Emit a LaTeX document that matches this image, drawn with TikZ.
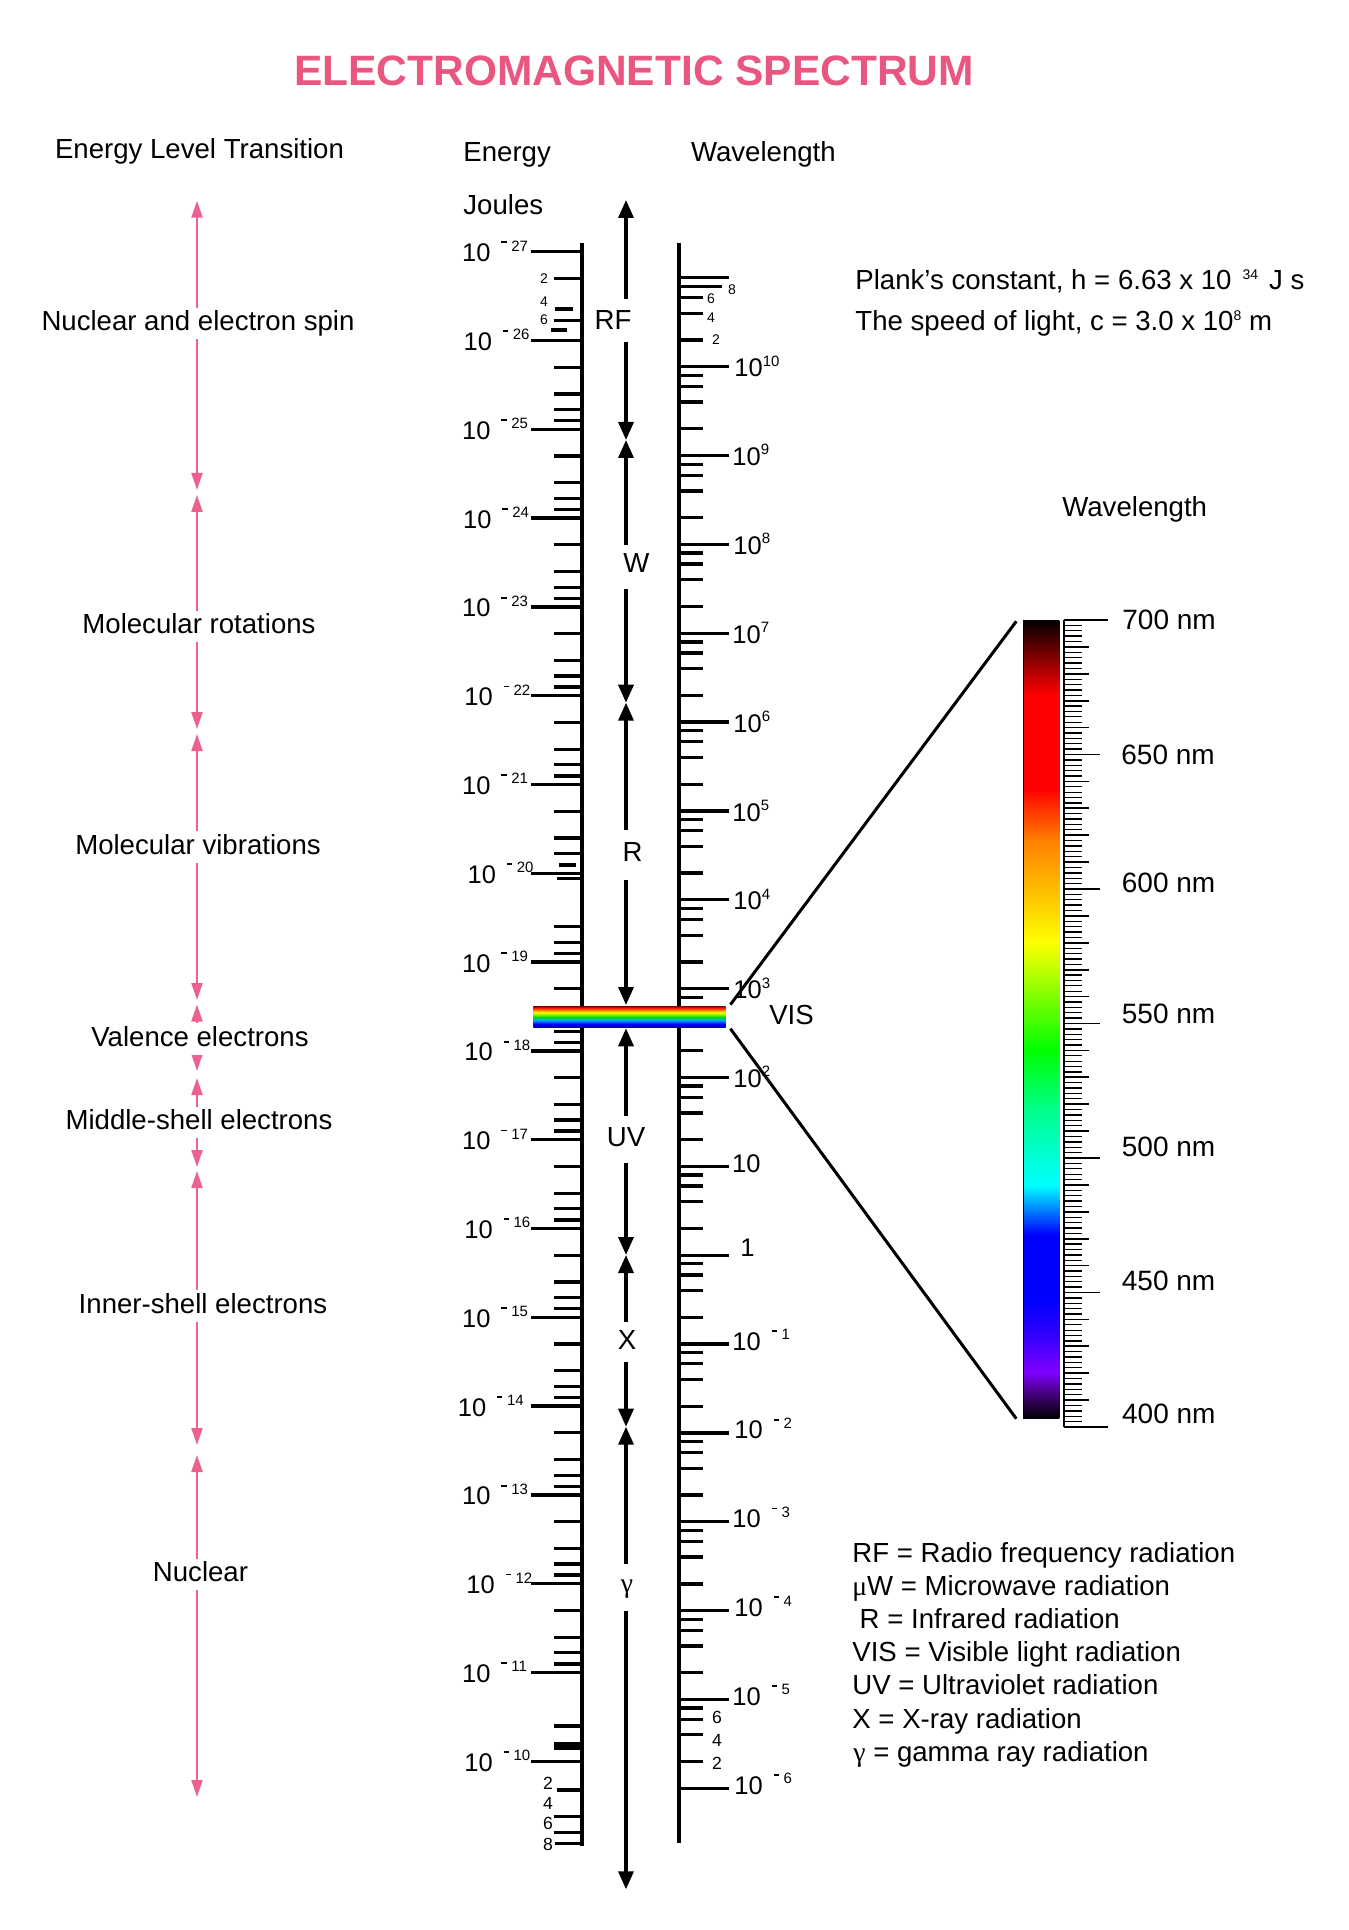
\documentclass[tikz,border=0pt]{standalone}
\usepackage{fontspec}
\setmainfont{Liberation Sans}
\newfontfamily\symserif{Liberation Serif}
\usetikzlibrary{arrows.meta,calc}

\definecolor{titlepink}{RGB}{233,86,128}
\definecolor{arrowpink}{RGB}{236,98,140}
\definecolor{sDarkRed}{RGB}{140,0,0}
\definecolor{sOrange}{RGB}{255,128,0}
\definecolor{sViolet}{RGB}{128,0,255}
\definecolor{sDeepViolet}{RGB}{60,0,110}
\definecolor{sIndigo}{RGB}{50,0,255}
\definecolor{sTeal}{RGB}{0,255,140}
\definecolor{rbNavy}{RGB}{0,0,170}
\definecolor{rbSky}{RGB}{0,170,255}
\definecolor{rbGreen}{RGB}{0,220,0}

\pgfdeclareverticalshading{visbar}{100bp}{%
color(0bp)=(black); color(25bp)=(black); color(26.4bp)=(sDeepViolet);
color(27.9bp)=(sViolet); color(30.2bp)=(sIndigo); color(32.4bp)=(blue);
color(36.5bp)=(blue); color(39.6bp)=(cyan); color(44.3bp)=(sTeal);
color(48.1bp)=(green); color(54.8bp)=(yellow); color(61.2bp)=(sOrange);
color(64.4bp)=(red); color(70.3bp)=(red); color(72.5bp)=(sDarkRed);
color(75bp)=(black); color(100bp)=(black)}

\pgfdeclareverticalshading{rainbowbar}{100bp}{%
color(0bp)=(rbNavy); color(25bp)=(rbNavy); color(33.6bp)=(blue);
color(43bp)=(rbSky); color(50bp)=(rbGreen); color(60.5bp)=(yellow);
color(66.4bp)=(sOrange); color(72.2bp)=(red); color(75bp)=(sDarkRed);
color(100bp)=(sDarkRed)}

\newcommand{\sclfont}{\fontsize{12.75pt}{14pt}\selectfont}
\newcommand{\myexpfont}{\fontsize{7.5pt}{9pt}\selectfont}
\newcommand{\tenneg}[1]{{\sclfont 10}\hspace{5.5pt}\rule[9.2pt]{2.6pt}{0.9pt}\hspace{2.3pt}\raisebox{5.3pt}{\myexpfont #1}}
\newcommand{\tenpos}[1]{{\sclfont 10}\raisebox{5.3pt}{\myexpfont #1}}

\begin{document}
\begin{tikzpicture}[x=0.5pt,y=-0.5pt,
  axisline/.style={line width=2pt},
  tickln/.style={line width=1.65pt},
  nmtick/.style={line width=0.65pt},
  bigarrow/.style={line width=1.7pt,-{Triangle[length=9pt,width=7.5pt]}},
  pinkarrow/.style={arrowpink,line width=1.1pt,{Triangle[length=8.5pt,width=5.5pt]}-{Triangle[length=8.5pt,width=5.5pt]}},
  diagline/.style={line width=1.5pt},
  txt/.style={font=\fontsize{13.8pt}{16pt}\selectfont,inner sep=0pt},
  sclab/.style={inner sep=0pt,anchor=base west},
  smalllab/.style={inner sep=0pt,font=\fontsize{7pt}{8pt}\selectfont},
  midlab/.style={inner sep=0pt,font=\fontsize{8.8pt}{10pt}\selectfont},
  plabel/.style={font=\fontsize{13.8pt}{16pt}\selectfont,fill=white,inner xsep=1pt,inner ysep=1.5pt,text height=9.8pt,text depth=2.8pt,anchor=base},
  alabel/.style={font=\fontsize{13.8pt}{16pt}\selectfont,inner sep=0pt,anchor=base}
]
\useasboundingbox (0,0) rectangle (1348,1930);

% ---------- title and headings ----------
\node[anchor=base,inner sep=0pt,text=titlepink,font=\bfseries\fontsize{21.25pt}{24pt}\selectfont] (title) at (634,86) {ELECTROMAGNETIC SPECTRUM};
\node[txt,anchor=base] (elt) at (199.5,158.5) {Energy Level Transition};
\node[txt,anchor=base west] (energy) at (463,162) {Energy};
\node[txt,anchor=base west] (wavelen) at (690.6,162) {Wavelength};
\node[txt,anchor=base west] (joules) at (463,215) {Joules};
\node[txt,anchor=base west] (plank) at (855,289.5) {Plank’s constant, h = 6.63 x 10\hspace{5.5pt}\raisebox{5pt}{\fontsize{7pt}{8pt}\selectfont 34}\hspace{5.5pt}J s};
\node[txt,anchor=base west] (light) at (855,331) {The speed of light, c = 3.0 x 10\raisebox{5pt}{\fontsize{7pt}{8pt}\selectfont 8}\ m};

% ---------- left (energy) scale ----------
\draw[axisline] (582,243) -- (582,1845.7);
\foreach \k in {0,...,17} {
  \pgfmathsetmacro\yy{251.7+\k*88.8}
  \draw[tickln] (531,\yy) -- (582,\yy);
}
\foreach \k in {1,2,3,4,5,8,9,10,11,12,13,14,15} {
  \foreach \f in {26.73,53.46,69.10,80.19} {
    \pgfmathsetmacro\yy{251.7+\k*88.8+\f}
    \draw[tickln] (554,\yy) -- (582,\yy);
  }
}
% decade 10^-21
\foreach \f in {26.73,53.46,69.10} {
  \pgfmathsetmacro\yy{251.7+6*88.8+\f}
  \draw[tickln] (554,\yy) -- (582,\yy);
}
\draw[tickln] (559,865) -- (576,865);
% decade 10^-20
\draw[tickln] (557,878.7) -- (582,878.7);
\foreach \f in {53.46,69.10,80.19} {
  \pgfmathsetmacro\yy{251.7+7*88.8+\f}
  \draw[tickln] (554,\yy) -- (582,\yy);
}
% decade 10^-27
\draw[tickln] (554,278.4) -- (582,278.4);
\draw[tickln] (555,309) -- (573,309);
\draw[tickln] (554,320.8) -- (582,320.8);
\draw[tickln] (551,330) -- (567,330);
\node[smalllab] (l2t) at (544,278.3) {2};
\node[smalllab] (l4t) at (544,301.7) {4};
\node[smalllab] (l6t) at (544,320) {6};
% decade 10^-11
\draw[tickln] (554,1726) -- (582,1726);
\fill (554,1741.7) rectangle (582,1750);
% below 10^-10
\draw[tickln] (556.7,1790) -- (582,1790);
\draw[tickln] (554,1816.7) -- (582,1816.7);
\draw[tickln] (554,1832.3) -- (582,1832.3);
\draw[tickln] (555,1843.3) -- (582,1843.3);
\node[midlab] (l2b) at (548,1783) {2};
\node[midlab] (l4b) at (548,1803) {4};
\node[midlab] (l6b) at (548,1823) {6};
\node[midlab] (l8b) at (548,1844) {8};

% left labels
\node[sclab] (e27) at (461.7,261.7) {\tenneg{27}};
\node[sclab] (e26) at (463.3,350.5) {\tenneg{26}};
\node[sclab] (e25) at (461.7,439.3) {\tenneg{25}};
\node[sclab] (e24) at (462.7,528.1) {\tenneg{24}};
\node[sclab] (e23) at (461.7,616.9) {\tenneg{23}};
\node[sclab] (e22) at (464,705.7) {\tenneg{22}};
\node[sclab] (e21) at (461.7,794.5) {\tenneg{21}};
\node[sclab] (e20) at (467.3,883.3) {\tenneg{20}};
\node[sclab] (e19) at (461.7,972.1) {\tenneg{19}};
\node[sclab] (e18) at (464,1060.9) {\tenneg{18}};
\node[sclab] (e17) at (461.7,1149.7) {\tenneg{17}};
\node[sclab] (e16) at (464,1238.5) {\tenneg{16}};
\node[sclab] (e15) at (461.7,1327.3) {\tenneg{15}};
\node[sclab] (e14) at (457.5,1416.1) {\tenneg{14}};
\node[sclab] (e13) at (461.7,1504.9) {\tenneg{13}};
\node[sclab] (e12) at (466,1593.7) {\tenneg{12}};
\node[sclab] (e11) at (461.7,1682.5) {\tenneg{11}};
\node[sclab] (e10) at (464,1771.3) {\tenneg{10}};

% ---------- right (wavelength) scale ----------
\draw[axisline] (679,243) -- (679,1843);
\foreach \k in {-1,0,...,16} {
  \pgfmathsetmacro\yy{366.7+\k*88.85}
  \draw[tickln] (679,\yy) -- (728.7,\yy);
}
\foreach \k in {0,...,15} {
  \foreach \f in {8.61,19.71,35.36,62.10} {
    \pgfmathsetmacro\yy{366.7+\k*88.85+\f}
    \draw[tickln] (679,\yy) -- (703.3,\yy);
  }
}
\draw[tickln] (679,286.5) -- (721.7,286.5);
\foreach \f in {19.71,35.36,62.10} {
  \pgfmathsetmacro\yy{277.85+\f}
  \draw[tickln] (679,\yy) -- (703.3,\yy);
}
\node[smalllab] (r8t) at (732,290) {8};
\node[smalllab] (r6t) at (711,299) {6};
\node[smalllab] (r4t) at (711,318) {4};
\node[smalllab] (r2t) at (716,340) {2};
\node[midlab] (r6b) at (717,1717.7) {6};
\node[midlab] (r4b) at (717,1740) {4};
\node[midlab] (r2b) at (717,1763.3) {2};

\node[sclab] (w10) at (734,376.7) {\tenpos{10}};
\node[sclab] (w9) at (732,465.6) {\tenpos{9}};
\node[sclab] (w8) at (733,554.4) {\tenpos{8}};
\node[sclab] (w7) at (732,643.3) {\tenpos{7}};
\node[sclab] (w6) at (733,732.1) {\tenpos{6}};
\node[sclab] (w5) at (732,821) {\tenpos{5}};
\node[sclab] (w4) at (733,909.8) {\tenpos{4}};
\node[sclab] (w3) at (733,998.7) {\tenpos{3}};
\node[sclab] (w2) at (733,1087.5) {\tenpos{2}};
\node[sclab] (w1) at (731.7,1172.4) {{\sclfont 10}};
\node[sclab] (w0) at (740,1256.5) {{\sclfont 1}};
\node[sclab] (wm1) at (732,1350.1) {\tenneg{1}};
\node[sclab] (wm2) at (734,1438.9) {\tenneg{2}};
\node[sclab] (wm3) at (732,1527.8) {\tenneg{3}};
\node[sclab] (wm4) at (734,1616.6) {\tenneg{4}};
\node[sclab] (wm5) at (732,1705.5) {\tenneg{5}};
\node[sclab] (wm6) at (734,1794.3) {\tenneg{6}};

% ---------- rainbow strip ----------
\node[shading=rainbowbar,inner sep=0pt,minimum width=96.2pt,minimum height=10.7pt] (rainbow) at (629.5,1017) {};

% ---------- central arrow ----------
\coordinate (c0) at (626,200);
\coordinate (rfA) at (626,298.7);
\coordinate (rfB) at (626,341.7);
\coordinate (m1) at (626,440);
\coordinate (wA) at (626,545);
\coordinate (wB) at (626,589.3);
\coordinate (m2) at (626,702.7);
\coordinate (rA) at (626,830);
\coordinate (rB) at (626,880);
\coordinate (m3) at (626,1005);
\coordinate (m4) at (626,1028.3);
\coordinate (uvA) at (626,1116);
\coordinate (uvB) at (626,1163.3);
\coordinate (m5) at (626,1255);
\coordinate (xA) at (626,1321.7);
\coordinate (xB) at (626,1361.7);
\coordinate (m6) at (626,1426.7);
\coordinate (gA) at (626,1564);
\coordinate (gB) at (626,1611);
\coordinate (c7) at (626,1889.3);
\draw[bigarrow] (rfA) -- (c0);
\draw[bigarrow] (rfB) -- (m1);
\draw[bigarrow] (wA) -- (m1);
\draw[bigarrow] (wB) -- (m2);
\draw[bigarrow] (rA) -- (m2);
\draw[bigarrow] (rB) -- (m3);
\draw[bigarrow] (uvA) -- (m4);
\draw[bigarrow] (uvB) -- (m5);
\draw[bigarrow] (xA) -- (m5);
\draw[bigarrow] (xB) -- (m6);
\draw[bigarrow] (gA) -- (m6);
\draw[bigarrow] (gB) -- (c7);
\node[alabel] (lRF) at (613,329.5) {RF};
\node[alabel] (lW) at (636.5,572.5) {W};
\node[alabel] (lR) at (632.5,861.5) {R};
\node[alabel] (lUV) at (626,1146.5) {UV};
\node[alabel] (lX) at (627,1349) {X};
\node[alabel] (lG) at (627,1592.5) {\symserif γ};

% ---------- visible zoom ----------
\node[txt,anchor=base] (vis) at (791.5,1024) {VIS};
\node[shading=visbar,inner sep=0pt,minimum width=18pt,minimum height=399.15pt] (visbar) at (1041.3,1019.15) {};
\draw[line width=0.4pt] (visbar.north west) -- (visbar.south west);
\draw[diagline] ($(rainbow.north east)+(4.3,-1.3)$) -- ($(visbar.north west)+(-6.6,1.7)$);
\draw[diagline] ($(rainbow.south east)+(4.3,0.6)$) -- ($(visbar.south west)+(-6.6,0)$);
\node[txt,anchor=base] (wl2) at (1134.7,516.5) {Wavelength};

% nm scale
\draw[line width=1pt] (1064.3,620) -- (1064.3,1427);
\foreach \i in {0,...,150} {
  \pgfmathsetmacro\yy{620+\i*5.38}
  \draw[nmtick] (1064.3,\yy) -- (1081.7,\yy);
}
\foreach \i in {5,10,...,145} {
  \pgfmathsetmacro\yy{620+\i*5.38}
  \draw[line width=0.85pt] (1064.3,\yy) -- (1089.3,\yy);
}
\foreach \i in {25,50,...,125} {
  \pgfmathsetmacro\yy{620+\i*5.38}
  \draw[line width=0.95pt] (1064.3,\yy) -- (1100,\yy);
}
\draw[line width=1.1pt] (1063.8,620) -- (1108.3,620);
\draw[line width=1.1pt] (1063.8,1427) -- (1108.3,1427);
\node[txt,anchor=base west,font=\fontsize{14pt}{16pt}\selectfont] (n700) at (1122,629) {700 nm};
\node[txt,anchor=base west,font=\fontsize{14pt}{16pt}\selectfont] (n650) at (1121,764) {650 nm};
\node[txt,anchor=base west,font=\fontsize{14pt}{16pt}\selectfont] (n600) at (1121.5,892.6) {600 nm};
\node[txt,anchor=base west,font=\fontsize{14pt}{16pt}\selectfont] (n550) at (1121.5,1023) {550 nm};
\node[txt,anchor=base west,font=\fontsize{14pt}{16pt}\selectfont] (n500) at (1121.5,1156) {500 nm};
\node[txt,anchor=base west,font=\fontsize{14pt}{16pt}\selectfont] (n450) at (1121.5,1290) {450 nm};
\node[txt,anchor=base west,font=\fontsize{14pt}{16pt}\selectfont] (n400) at (1121.7,1423) {400 nm};

% ---------- legend ----------
\node[txt,anchor=base west] (lg1) at (852,1562) {RF = Radio frequency radiation};
\node[txt,anchor=base west] (lg2) at (852,1595.2) {{\symserif μ}W = Microwave radiation};
\node[txt,anchor=base west] (lg3) at (859.3,1628.5) {R = Infrared radiation};
\node[txt,anchor=base west] (lg4) at (852,1661.7) {VIS = Visible light radiation};
\node[txt,anchor=base west] (lg5) at (852,1694.9) {UV = Ultraviolet radiation};
\node[txt,anchor=base west] (lg6) at (852,1728.2) {X = X-ray radiation};
\node[txt,anchor=base west] (lg7) at (853,1761.4) {{\symserif γ} = gamma ray radiation};

% ---------- energy level transitions (pink) ----------
\coordinate (pt1) at (197,200.7);  \coordinate (pb1) at (197,490);
\coordinate (pt2) at (197,495);    \coordinate (pb2) at (197,729);
\coordinate (pt3) at (197,734);    \coordinate (pb3) at (197,1000);
\coordinate (pt4) at (197,1004.5); \coordinate (pb4) at (197,1071);
\coordinate (pt5) at (197,1078);   \coordinate (pb5) at (197,1167);
\coordinate (pt6) at (197,1171);   \coordinate (pb6) at (197,1445);
\coordinate (pt7) at (197,1455);   \coordinate (pb7) at (197,1797);
\foreach \j in {1,...,7} { \draw[pinkarrow] (pt\j) -- (pb\j); }
\node[plabel] (t1) at (198,330.5) {Nuclear and electron spin};
\node[plabel] (t2) at (199,633.5) {Molecular rotations};
\node[plabel] (t3) at (198,854) {Molecular vibrations};
\node[plabel] (t4) at (200,1046) {Valence electrons};
\node[plabel] (t5) at (199,1129.5) {Middle-shell electrons};
\node[plabel] (t6) at (203,1313) {Inner-shell electrons};
\node[plabel] (t7) at (200.5,1581.5) {Nuclear};
\end{tikzpicture}
\end{document}
